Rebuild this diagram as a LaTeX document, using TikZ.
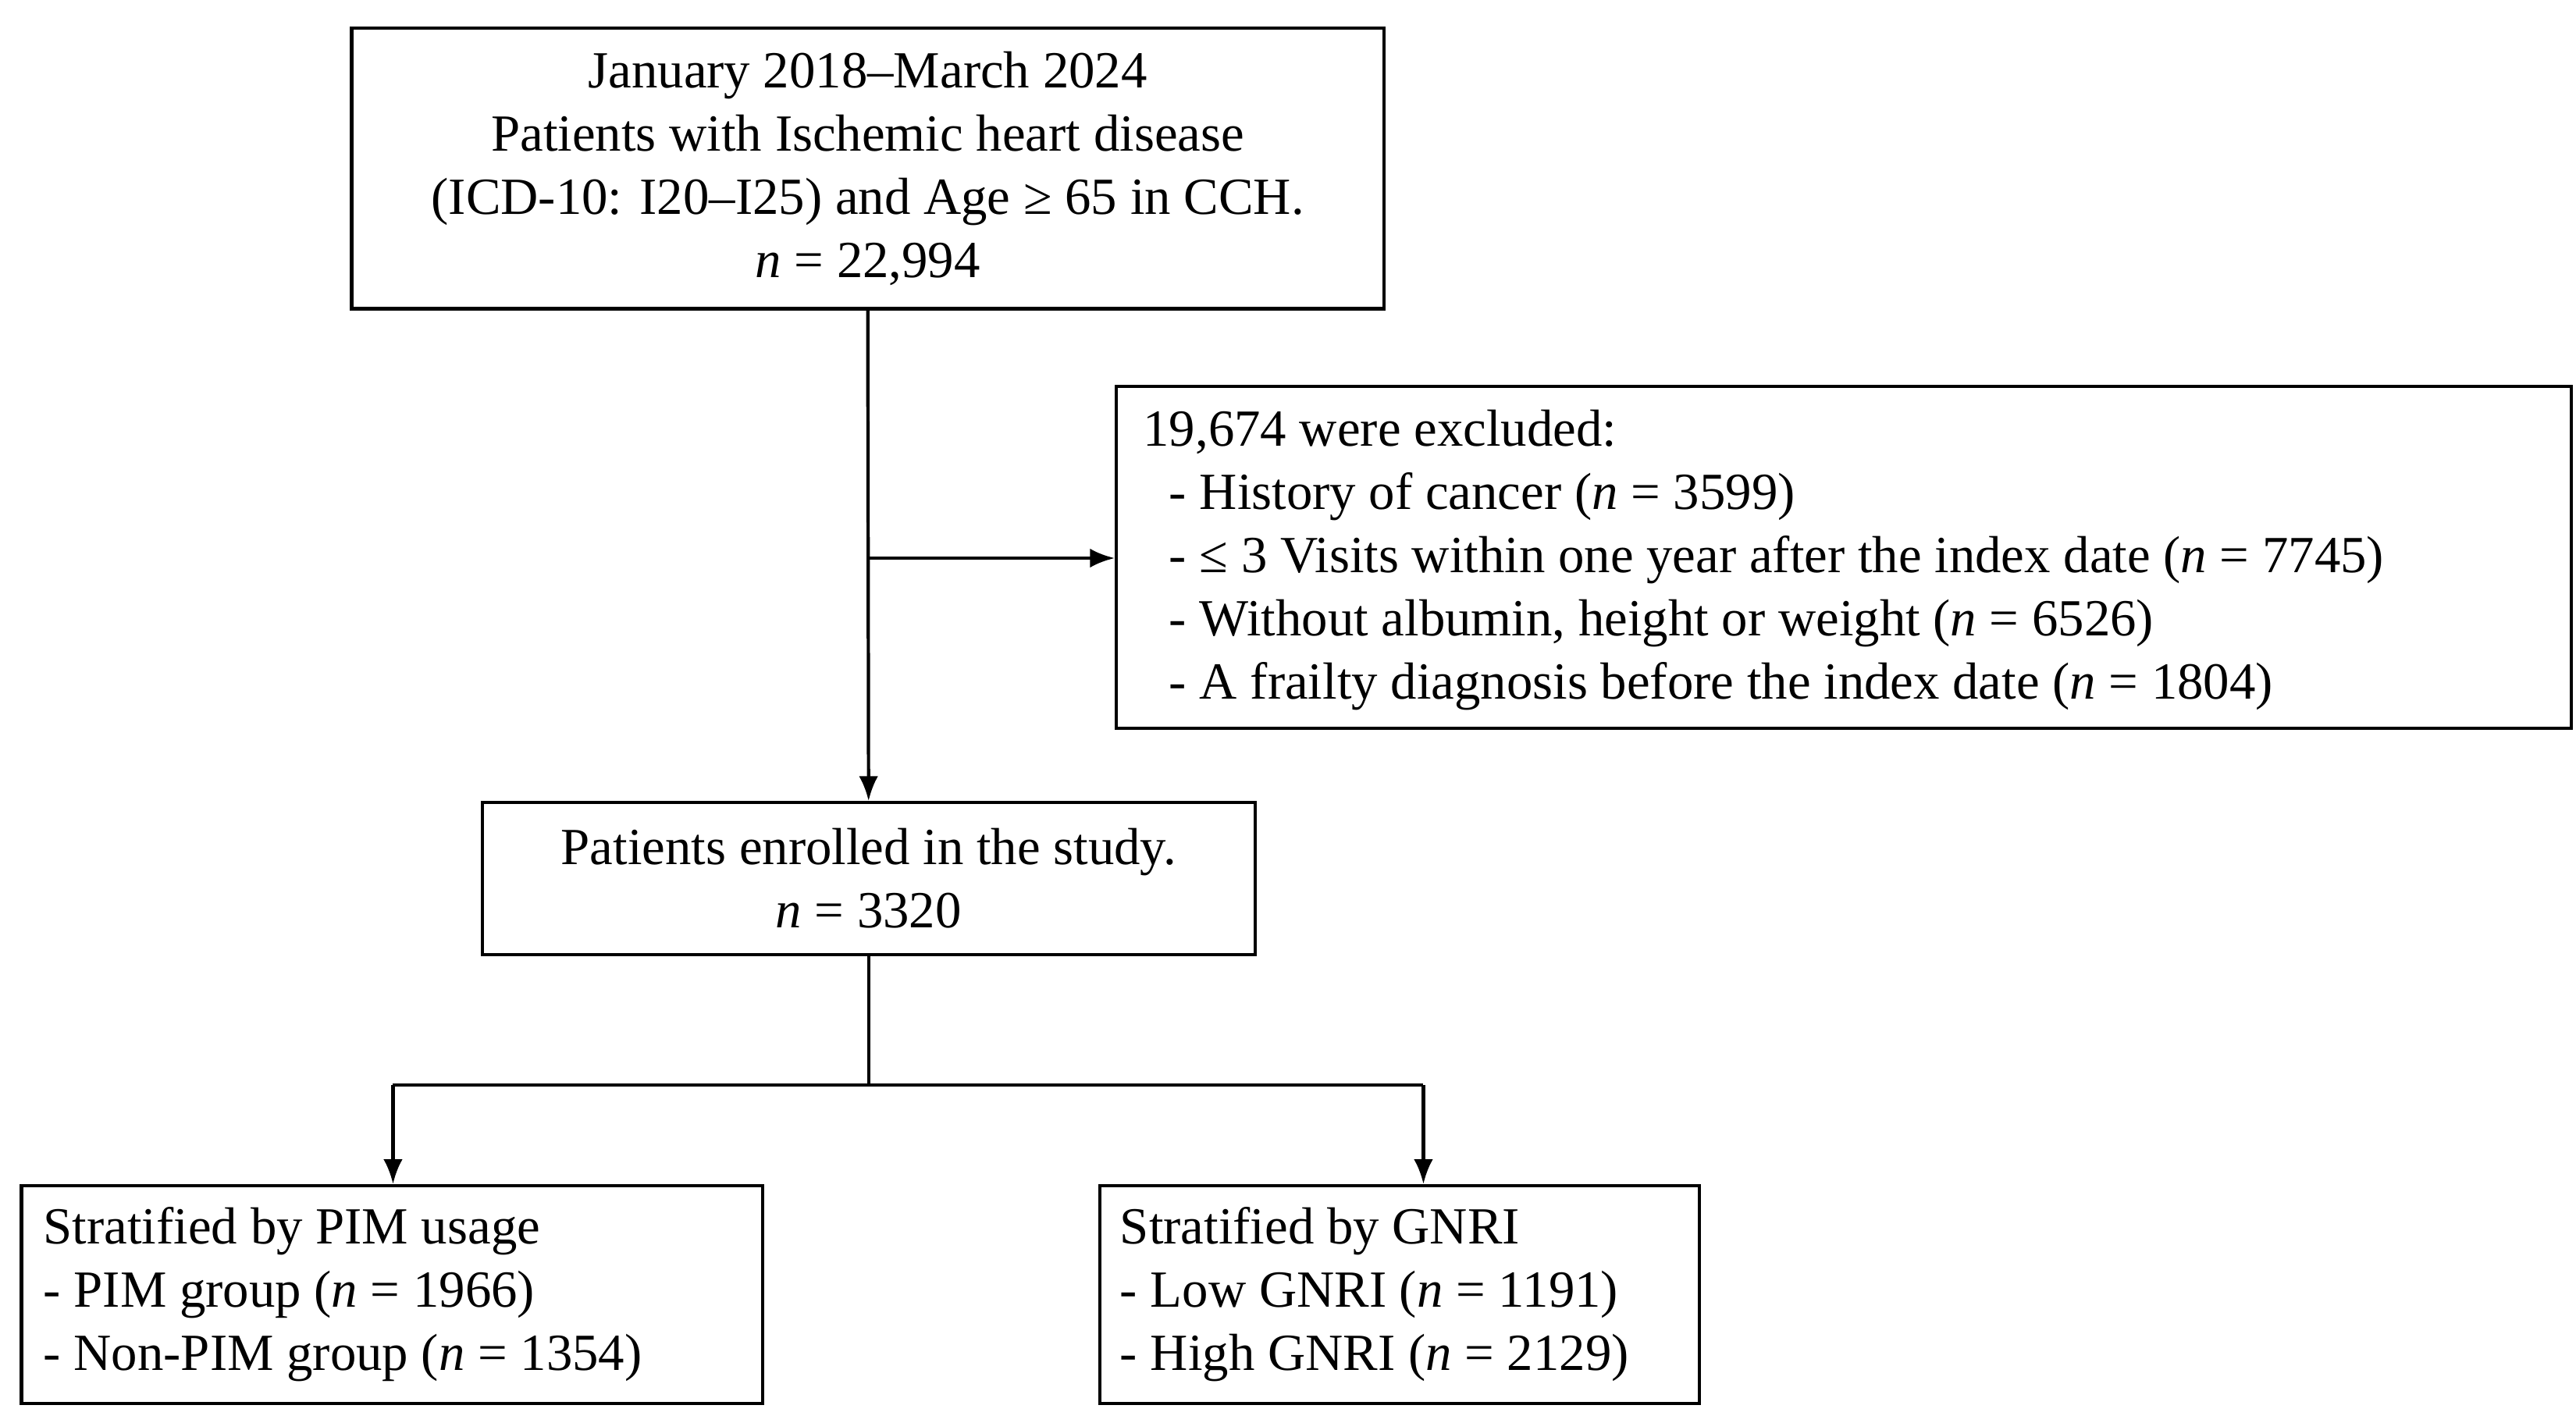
\documentclass[tikz,border=0pt]{standalone}
\usepackage{fontspec}
\setmainfont{Liberation Serif}
\usetikzlibrary{arrows.meta}
\begin{document}
\begin{tikzpicture}[x=0.02115cm,y=-0.02115cm,
  box/.style={draw,line width=1.2pt,inner sep=0pt,font=\fontsize{19}{23}\selectfont},
  arr/.style={line width=1.2pt,-{Latex[length=9pt,width=7pt]}},
  ln/.style={line width=1.2pt}]
\useasboundingbox (0,0) rectangle (1560,861.5);
\node[box,minimum width=625*0.02115cm,minimum height=170*0.02115cm,align=center] (top) at (525.5,102)
 {January 2018–March 2024\\Patients with Ischemic heart disease\\(ICD-10: I20–I25) and Age ≥ 65 in CCH.\\\textit{n} = 22,994};
\node[box,minimum width=881*0.02115cm,minimum height=207*0.02115cm] (exc) at (1116.5,337.5) {};
\node[font=\fontsize{19}{23}\selectfont,align=left,anchor=north west,inner sep=0pt] (exct) at (692,248)
 {19,674 were excluded:\\
 \ \ - History of cancer (\textit{n} = 3599)\\
 \ \ - ≤ 3 Visits within one year after the index date (\textit{n} = 7745)\\
 \ \ - Without albumin, height or weight (\textit{n} = 6526)\\
 \ \ - A frailty diagnosis before the index date (\textit{n} = 1804)};
\node[box,minimum width=468*0.02115cm,minimum height=92*0.02115cm,align=center] (enr) at (526,532)
 {Patients enrolled in the study.\\\textit{n} = 3320};
\node[box,minimum width=449*0.02115cm,minimum height=132*0.02115cm] (pim) at (237.5,784) {};
\node[font=\fontsize{19}{23}\selectfont,align=left,anchor=west,inner sep=0pt] (pimt) at (26,784)
 {Stratified by PIM usage\\- PIM group (\textit{n} = 1966)\\- Non-PIM group (\textit{n} = 1354)};
\node[box,minimum width=363*0.02115cm,minimum height=132*0.02115cm] (gnri) at (847.5,784) {};
\node[font=\fontsize{19}{23}\selectfont,align=left,anchor=west,inner sep=0pt] (gnrit) at (678,784)
 {Stratified by GNRI\\- Low GNRI (\textit{n} = 1191)\\- High GNRI (\textit{n} = 2129)};
\coordinate (j) at (526,338);
\coordinate (s) at (526,657);
\coordinate (sl) at (238,657);
\coordinate (sr) at (862,657);
\draw[arr] (top.south) -- (enr.north);
\draw[arr] (j) -- (exc.west|-j);
\draw[ln] (enr.south) -- (s);
\draw[ln] (sl) -- (sr);
\draw[arr] (sl) -- (sl|-pim.north);
\draw[arr] (sr) -- (sr|-gnri.north);
\end{tikzpicture}
\end{document}
